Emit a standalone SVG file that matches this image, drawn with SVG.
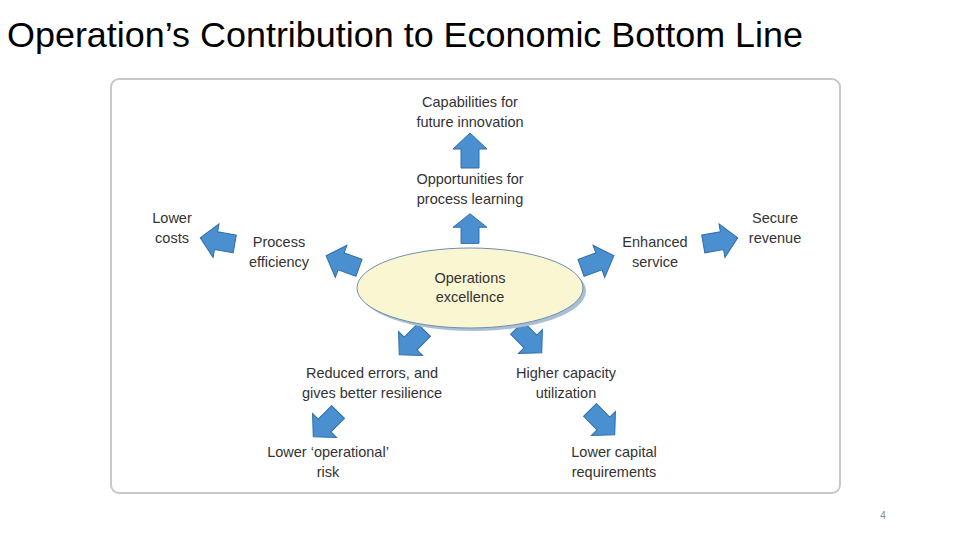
<svg xmlns="http://www.w3.org/2000/svg" width="960" height="540" viewBox="0 0 960 540">
<style>
.t{font-family:"Liberation Sans",Arial,sans-serif;font-size:14.5px;fill:#333;text-anchor:middle}
.a{fill:#4a8fd0;stroke:#2f6ea8;stroke-width:1}
</style>
<defs><path id="ar" d="M-9,17 L-9,-2 L-17,-2 L0,-18 L17,-2 L9,-2 L9,17 Z"/></defs>
<rect width="960" height="540" fill="#fff"/>
<text x="7" y="47" textLength="796" lengthAdjust="spacingAndGlyphs" style="font-family:'Liberation Sans',Arial,sans-serif;font-size:35px;fill:#000">Operation’s Contribution to Economic Bottom Line</text>
<rect x="111" y="79" width="729" height="414" rx="8" fill="#fff" stroke="#c8c8c8" stroke-width="2"/>
<g id="connectors">
<use href="#ar" class="a" transform="translate(470,151)"/>
<use href="#ar" class="a" transform="translate(470,229) scale(1,0.85)"/>
<use href="#ar" class="a" transform="translate(343,262) rotate(-70)"/>
<use href="#ar" class="a" transform="translate(218,241) rotate(-80)"/>
<use href="#ar" class="a" transform="translate(597,262) rotate(70)"/>
<use href="#ar" class="a" transform="translate(720,241) rotate(80)"/>
<use href="#ar" class="a" transform="translate(412,342) rotate(-135)"/>
<use href="#ar" class="a" transform="translate(529,340) rotate(135)"/>
<use href="#ar" class="a" transform="translate(326,424) rotate(-135)"/>
<use href="#ar" class="a" transform="translate(602,422) rotate(135)"/>
</g>
<g id="center">
<ellipse cx="473" cy="291" rx="113" ry="40" fill="#a9bfd3"/>
<ellipse cx="470" cy="288" rx="113" ry="40" fill="#fbf6d2" stroke="#6f8fae" stroke-width="1"/>
<text class="t" x="470" y="283">Operations</text><text class="t" x="470" y="302">excellence</text>
</g>
<g id="n1"><text class="t" x="470" y="107">Capabilities for</text><text class="t" x="470" y="127">future innovation</text></g>
<g id="n2"><text class="t" x="470" y="184">Opportunities for</text><text class="t" x="470" y="204">process learning</text></g>
<g id="n3"><text class="t" x="172" y="223">Lower</text><text class="t" x="172" y="243">costs</text></g>
<g id="n4"><text class="t" x="279" y="247">Process</text><text class="t" x="279" y="267">efficiency</text></g>
<g id="n5"><text class="t" x="655" y="247">Enhanced</text><text class="t" x="655" y="267">service</text></g>
<g id="n6"><text class="t" x="775" y="223">Secure</text><text class="t" x="775" y="243">revenue</text></g>
<g id="n7"><text class="t" x="372" y="378">Reduced errors, and</text><text class="t" x="372" y="398">gives better resilience</text></g>
<g id="n8"><text class="t" x="566" y="378">Higher capacity</text><text class="t" x="566" y="398">utilization</text></g>
<g id="n9"><text class="t" x="328" y="457">Lower ‘operational’</text><text class="t" x="328" y="477">risk</text></g>
<g id="n10"><text class="t" x="614" y="457">Lower capital</text><text class="t" x="614" y="477">requirements</text></g>
<text x="883" y="519" style="font-family:'Liberation Sans',Arial,sans-serif;font-size:10px;fill:#888;text-anchor:middle">4</text>
</svg>
